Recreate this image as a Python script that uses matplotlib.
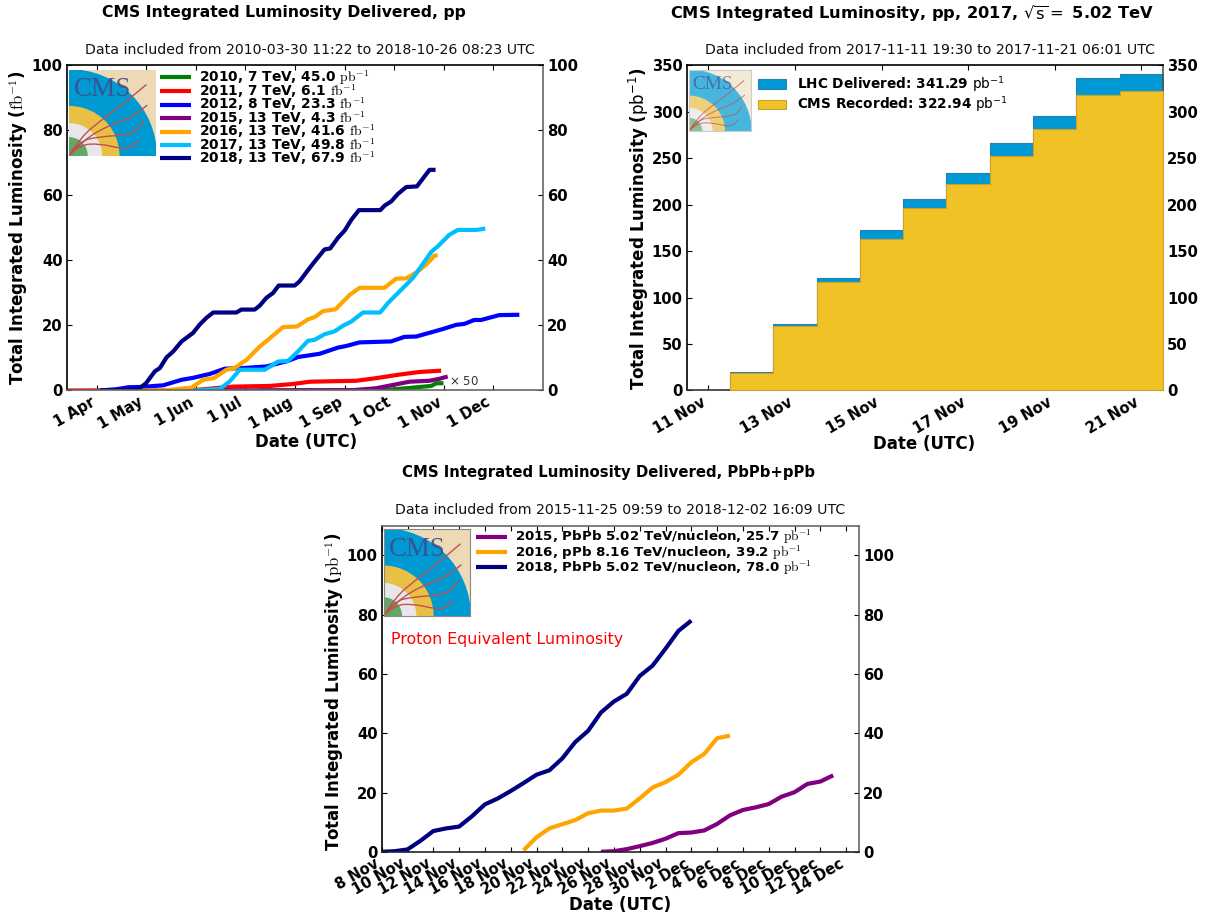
import numpy as np
import matplotlib
matplotlib.use('Agg')
import matplotlib.pyplot as plt
import matplotlib.dates as mdates
import matplotlib.patches as mpatches
import matplotlib.transforms as mtransforms
from matplotlib.path import Path
from matplotlib.font_manager import FontProperties
from datetime import datetime, timedelta

W, H = 1206, 916

# ---- chart 1 data: days since 1 Apr, integrated luminosity in fb^-1
days_2010 = [100, 175, 190.6, 206, 209, 213.6]
lumi_2010 = [0, 0.05, 0.7, 1.4, 2.2, 2.25]
days_2011 = [-18.9, 59, 83.8, 106.4, 120.7, 131, 159.8, 172.1, 186.5, 198.8, 212.1]
lumi_2011 = [0, 0.1, 1.2, 1.4, 2.0, 2.7, 3.0, 3.8, 4.9, 5.7, 6.1]
days_2012 = [1.6, 12, 19.1, 27.3, 40.7, 52, 59.1, 69.4, 78.6, 90, 104.3, 117.7, 123.8, 137.2, 148.5,
             153.6, 161.8, 181.3, 189.5, 196.7, 206, 213.1, 221.4, 226.5, 232.6, 236.8, 248, 260.4]
lumi_2012 = [0, 0.4, 1.0, 1.1, 1.6, 3.3, 3.9, 5.1, 6.7, 6.9, 7.4, 9.1, 10.3, 11.3, 13.2,
             13.7, 14.8, 15.1, 16.5, 16.6, 17.9, 18.9, 20.2, 20.5, 21.7, 21.7, 23.2, 23.3]
days_2015 = [60, 157.7, 172.1, 184.3, 192.6, 204.9, 211, 216.2]
lumi_2015 = [0, 0.1, 0.7, 1.9, 2.7, 3.0, 3.6, 4.3]
days_2016 = [25, 42.7, 58.1, 65.3, 71.9, 79.7, 84.8, 88.9, 92, 100.2, 105.3, 114.6, 123.2, 130, 134.1,
             139.2, 147, 155.7, 161.8, 177.2, 184.3, 190.5, 197.7, 203.9, 208, 210]
lumi_2016 = [0, 0.1, 0.9, 3.3, 3.8, 6.4, 6.9, 8.4, 9.4, 13.5, 15.6, 19.5, 19.7, 21.9, 22.6,
             24.4, 25.0, 29.4, 31.6, 31.6, 34.4, 34.5, 36.6, 39.2, 41.5, 41.6]
days_2017 = [59, 75.6, 81.7, 87.9, 103.3, 107.4, 111.5, 117.7, 123.8, 130, 134.1, 140.2, 146.4, 151.5,
             156.7, 163.9, 174.5, 179.3, 186.5, 194.7, 199.8, 206, 211, 217.2, 222.4, 233.7, 239.4]
lumi_2017 = [0, 0.5, 2.8, 6.4, 6.4, 7.6, 8.9, 9.1, 12, 15.3, 15.6, 17.3, 18.2, 19.9,
             21.2, 24, 24, 26.9, 30.5, 34.6, 38.2, 42.6, 44.8, 47.9, 49.4, 49.4, 49.8]
days_2018 = [1.6, 25, 30, 35.5, 38.6, 42.7, 46.8, 52, 59, 63.2, 67.4, 71.5, 85.8, 88.9, 97.1, 100.2, 104.3,
             108.4, 111.9, 121.8, 124.8, 131, 135.1, 140.2, 143.7, 148.5, 152.6, 156.7, 161.4, 174.6,
             177.3, 181.4, 185.5, 190.6, 197.2, 205, 208.7]
lumi_2018 = [0, 0.3, 2.2, 5.9, 6.9, 10.2, 12, 15.1, 17.7, 20.3, 22.4, 24, 24, 24.9, 24.9, 26.1, 28.5,
             30, 32.3, 32.3, 33.6, 37.7, 40.3, 43.4, 43.7, 47, 49.2, 52.5, 55.5, 55.5,
             56.9, 58.2, 60.5, 62.6, 62.8, 67.9, 67.9]
pp_labels = ['2010, 7 TeV, 45.0 $\\mathrm{pb}^{-1}$', '2011, 7 TeV, 6.1 $\\mathrm{fb}^{-1}$',
             '2012, 8 TeV, 23.3 $\\mathrm{fb}^{-1}$', '2015, 13 TeV, 4.3 $\\mathrm{fb}^{-1}$',
             '2016, 13 TeV, 41.6 $\\mathrm{fb}^{-1}$', '2017, 13 TeV, 49.8 $\\mathrm{fb}^{-1}$',
             '2018, 13 TeV, 67.9 $\\mathrm{fb}^{-1}$']
pp_colors = ['green', 'red', 'blue', 'purple', 'orange', 'deepskyblue', 'navy']

# ---- chart 2 data: step edges (days in Nov 2017), pb^-1
step_edges = [11.5, 12.5, 13.5, 14.5, 15.5, 16.5, 17.5, 18.5, 19.5, 20.5, 21.5]
delivered = [20, 71.5, 121.5, 172.5, 206.5, 234.5, 266, 296, 336.5, 341.29, 341.29]
recorded = [19, 69, 117, 163, 196, 222, 253, 282, 318, 322.94, 322.94]

# ---- chart 3 data: days since 8 Nov, pb^-1
hi_days_2018 = [0, 1, 2, 3, 4, 5, 6, 7, 8, 9, 10, 11, 12, 13, 14, 15, 16, 17, 18, 19, 20, 21, 22, 23, 24]
hi_lumi_2018 = [0, 0.2, 0.8, 3.7, 7, 7.9, 8.5, 12, 16, 18, 20.5, 23.2, 26, 27.5, 31.5, 37, 40.8, 47,
                50.7, 53.3, 59.3, 62.8, 68.5, 74.5, 78]
hi_days_2016 = [11, 12, 13, 14, 15, 16, 17, 18, 19, 20, 21, 22, 23, 24, 25, 26, 27]
hi_lumi_2016 = [0.5, 4.9, 7.9, 9.3, 10.7, 13, 13.9, 13.9, 14.6, 18, 21.7, 23.5, 26, 30.2, 33, 38.3, 39.2]
hi_days_2015 = [17, 18, 19, 20, 21, 22, 23, 24, 25, 26, 27, 28, 29, 30, 31, 32, 33, 34, 35]
hi_lumi_2015 = [0, 0.2, 0.9, 1.9, 3, 4.4, 6.3, 6.5, 7.2, 9.4, 12.3, 14.1, 15, 16.1, 18.6, 20.1, 22.9, 23.7, 25.8]
hi_labels = ['2015, PbPb 5.02 TeV/nucleon, 25.7 $\\mathrm{pb}^{-1}$',
             '2016, pPb 8.16 TeV/nucleon, 39.2 $\\mathrm{pb}^{-1}$',
             '2018, PbPb 5.02 TeV/nucleon, 78.0 $\\mathrm{pb}^{-1}$']
hi_colors = ['purple', 'orange', 'navy']

TICK = 10.6
LABEL = 12.0
SUB = 10.18

fig = plt.figure(figsize=(W / 100, H / 100), dpi=100)
px = mtransforms.Affine2D().scale(1 / W, -1 / H).translate(0, 1) + fig.transFigure


def add_axes(l, t, r, b):
    return fig.add_axes([l / W, 1 - b / H, (r - l) / W, (b - t) / H])


def to_dates(base, days):
    return [base + timedelta(days=float(d)) for d in days]


def style(ax, ylabel, xlabel_xy, ylabel_xy, mathfont, spine_colors, xticks, yticks, rot=30):
    ax.set_yticks(yticks)
    ax.set_xticks(xticks)
    ax.xaxis.set_major_formatter(mdates.DateFormatter('%-d %b'))
    ax.tick_params(direction='in', length=3.5, width=0.8, top=True, right=True, labelright=True,
                   labelsize=TICK, pad=3)
    for lab in ax.get_xticklabels():
        lab.set_rotation(rot)
        lab.set_ha('right')
        lab.set_fontweight('bold')
    for lab in ax.get_yticklabels():
        lab.set_fontweight('bold')
    for tick in ax.yaxis.get_major_ticks():
        tick.label2.set_fontweight('bold')
    for name, col in spine_colors.items():
        ax.spines[name].set_color(col)
        ax.spines[name].set_linewidth(1.2)
    ax.set_xlabel('Date (UTC)', fontsize=LABEL, fontweight='bold', va='center')
    ax.xaxis.set_label_coords(*xlabel_xy, transform=px)
    ax.set_ylabel(ylabel, fontsize=LABEL, fontweight='bold', math_fontfamily=mathfont, va='center')
    ax.yaxis.set_label_coords(*ylabel_xy, transform=px)


def track(a, pts, lw, alpha):
    pts = list(pts)
    verts = [pts[0]]
    codes = [Path.MOVETO]
    for i in range(1, len(pts) - 1):
        mid = ((pts[i][0] + pts[i + 1][0]) / 2, (pts[i][1] + pts[i + 1][1]) / 2)
        verts += [pts[i], mid if i < len(pts) - 2 else pts[i + 1]]
        codes += [Path.CURVE3, Path.CURVE3]
    a.add_patch(mpatches.PathPatch(Path(verts, codes), fc='none', ec='#c0504d', lw=lw, alpha=alpha))


def logo(l, t, r, b, alpha=1.0, edge='none'):
    a = add_axes(l, t, r, b)
    a.set_xlim(0, 1)
    a.set_ylim(0, 1)
    a.set_xticks([])
    a.set_yticks([])
    a.patch.set_facecolor('#ecd9b5')
    a.patch.set_alpha(alpha)
    for s in a.spines.values():
        s.set_color(edge)
        s.set_linewidth(0.8)
    for radius, col in [(1.01, '#009ad3'), (0.58, '#e9bf45'), (0.38, '#e9e6ea'), (0.215, '#5fa866')]:
        a.add_patch(mpatches.Circle((0, 0), radius, fc=col, ec='none'))
    if alpha < 1:
        a.add_patch(mpatches.Rectangle((0, 0), 1, 1, fc='white', ec='none', alpha=1 - alpha))
    scale = (r - l) / 87
    for pts in [[(0, 0), (0.14, 0.22), (0.355, 0.40), (0.62, 0.60), (0.89, 0.83)],
                [(0, 0), (0.16, 0.18), (0.47, 0.36), (0.72, 0.44), (0.90, 0.59)],
                [(0, 0), (0.12, 0.17), (0.35, 0.22), (0.66, 0.24), (0.80, 0.30), (0.86, 0.41)],
                [(0, 0), (0.12, 0.125), (0.35, 0.14), (0.60, 0.08), (0.72, 0.09), (0.80, 0.18)]]:
        track(a, pts, 1.0 * scale, alpha)
    a.text(0.385, 0.77, 'CMS', family='Liberation Serif', fontsize=19.5 * scale, color='#3f4b8c',
           ha='center', va='center', alpha=0.9 * alpha)
    return a


def place_legend(ax, handles, labels, x, y, mathfont, size, spacing, hl, ht):
    prop = FontProperties(family='DejaVu Sans', weight='bold', size=size, math_fontfamily=mathfont)
    return ax.legend(handles, labels, loc='upper left', bbox_to_anchor=(x, y), bbox_transform=px, prop=prop,
                     frameon=False, borderpad=0, borderaxespad=0, labelspacing=spacing, handlelength=hl,
                     handletextpad=ht)


# ---------------------------------------------------------------- chart 1
base1 = datetime(2018, 4, 1)
ax1 = add_axes(66.7, 65.5, 543, 390.5)
series1 = [(days_2010, lumi_2010), (days_2011, lumi_2011), (days_2012, lumi_2012), (days_2015, lumi_2015),
           (days_2016, lumi_2016), (days_2017, lumi_2017), (days_2018, lumi_2018)]
lines1 = []
for (d, v), c in zip(series1, pp_colors):
    ln, = ax1.plot(to_dates(base1, d), v, color=c, lw=3.0, solid_capstyle='butt')
    lines1.append(ln)
ax1.set_xlim(base1 - timedelta(days=18.9), base1 + timedelta(days=275))
ax1.set_ylim(0, 100)
months1 = [datetime(2018, m, 1) for m in range(4, 13)]
style(ax1, 'Total Integrated Luminosity ($\\mathrm{fb}^{-1}$)', (306, 442), (19, 228), 'cm',
      {'top': 'black', 'left': 'black', 'right': '#666666', 'bottom': '#666666'}, months1,
      [0, 20, 40, 60, 80, 100])
place_legend(ax1, lines1, pp_labels, 160, 68, 'cm', 9.95, -0.3, 2.25, 0.56)
ax1.text(base1 + timedelta(days=217), 2.7, '$\\times$ 50', fontsize=8.5, color='#333333', va='center')
logo(69, 70, 156, 155.5)
fig.text(283.5 / W, 1 - 12.5 / H, 'CMS Integrated Luminosity Delivered, pp', ha='center', va='center',
         fontsize=11.26, fontweight='bold')
fig.text(310 / W, 1 - 50.5 / H, 'Data included from 2010-03-30 11:22 to 2018-10-26 08:23 UTC', ha='center',
         va='center', fontsize=SUB, color='#111111')

# ---------------------------------------------------------------- chart 2
base2 = datetime(2017, 10, 31)
ax2 = add_axes(686.7, 65.5, 1163, 390.5)
edges = to_dates(base2, step_edges)
ax2.fill_between(edges, delivered, step='post', facecolor='#0099d6', edgecolor='#2a7fa8', lw=0.8, zorder=2)
ax2.fill_between(edges, recorded, step='post', facecolor='#f1c226', edgecolor='#c9a227', lw=0.8, zorder=3)
ax2.set_xlim(base2 + timedelta(days=10.5), base2 + timedelta(days=21.5))
ax2.set_ylim(0, 350)
style(ax2, 'Total Integrated Luminosity ($\\mathrm{pb}^{-1}$)', (924, 444), (639, 229), 'dejavusans',
      {'top': 'black', 'left': 'black', 'right': '#555555', 'bottom': '#333333'},
      [datetime(2017, 11, d) for d in (11, 13, 15, 17, 19, 21)], list(range(0, 351, 50)))
handles2 = [mpatches.Patch(facecolor='#0099d6', edgecolor='#2a7fa8', lw=0.8),
            mpatches.Patch(facecolor='#f1c226', edgecolor='#c9a227', lw=0.8)]
place_legend(ax2, handles2, ['LHC Delivered: 341.29 $\\mathrm{pb}^{-1}$', 'CMS Recorded: 322.94 $\\mathrm{pb}^{-1}$'],
             758, 74, 'dejavusans', 9.77, 0.08, 2.09, 0.8)
logo(689, 70, 751, 131, alpha=0.72, edge='#cccccc')
fig.text(912.5 / W, 1 - 14 / H, 'CMS Integrated Luminosity, pp, 2017, $\\sqrt{\\mathrm{s}}=$ 5.02 TeV', ha='center',
         va='center', fontsize=11.7, fontweight='bold', math_fontfamily='dejavusans')
fig.text(930 / W, 1 - 50.5 / H, 'Data included from 2017-11-11 19:30 to 2017-11-21 06:01 UTC', ha='center',
         va='center', fontsize=SUB, color='#111111')

# ---------------------------------------------------------------- chart 3
base3 = datetime(2018, 11, 8)
ax3 = add_axes(381.7, 525.7, 859, 851.8)
series3 = [(hi_days_2015, hi_lumi_2015), (hi_days_2016, hi_lumi_2016), (hi_days_2018, hi_lumi_2018)]
lines3 = []
for (d, v), c in zip(series3, hi_colors):
    ln, = ax3.plot(to_dates(base3, d), v, color=c, lw=3.0, solid_capstyle='butt')
    lines3.append(ln)
ax3.set_xlim(base3, base3 + timedelta(days=37))
ax3.set_ylim(0, 110)
style(ax3, 'Total Integrated Luminosity ($\\mathrm{pb}^{-1}$)', (620, 905), (335, 692), 'cm',
      {'top': '#666666', 'left': 'black', 'right': '#666666', 'bottom': '#222222'},
      [base3 + timedelta(days=i) for i in range(0, 37, 2)], [0, 20, 40, 60, 80, 100])
place_legend(ax3, lines3, hi_labels, 476, 528, 'cm', 9.65, -0.25, 2.3, 0.58)
ax3.text(0.02, 0.652, 'Proton Equivalent Luminosity', transform=ax3.transAxes, color='red', fontsize=11.4,
         va='center')
logo(383.5, 529, 470, 616, edge='#888888')
fig.text(608.5 / W, 1 - 473 / H, 'CMS Integrated Luminosity Delivered, PbPb+pPb', ha='center', va='center',
         fontsize=10.75, fontweight='bold')
fig.text(620 / W, 1 - 510.5 / H, 'Data included from 2015-11-25 09:59 to 2018-12-02 16:09 UTC', ha='center',
         va='center', fontsize=SUB, color='#111111')

fig.savefig('out.png', dpi=100)
